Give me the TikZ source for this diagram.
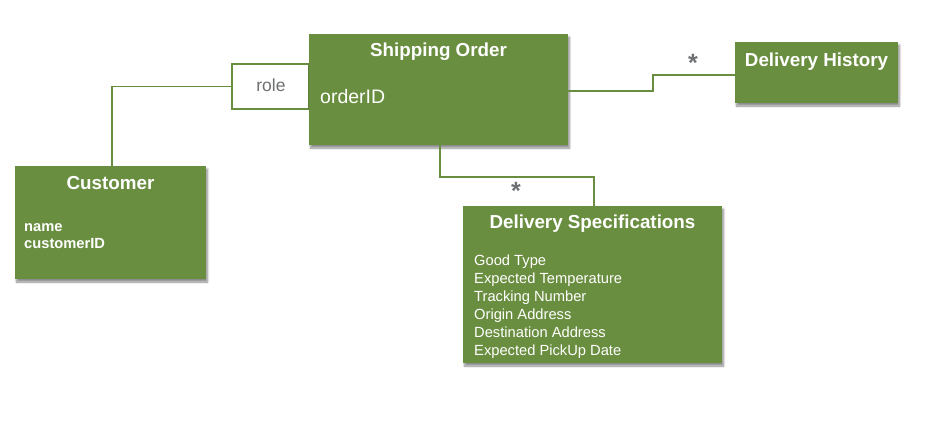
\documentclass[tikz,border=0pt]{standalone}
\usepackage{fontspec}
\setmainfont{Liberation Sans}
\usetikzlibrary{shadows.blur}
\definecolor{umlgreen}{RGB}{106,142,64}
\definecolor{txtgray}{RGB}{110,112,114}
\tikzset{
  classbox/.style={draw=none, fill=umlgreen, inner sep=0pt,
    blur shadow={shadow xshift=1.5pt, shadow yshift=-3pt, shadow blur steps=6, shadow opacity=45}},
  conn/.style={draw=umlgreen, line width=1.8pt},
  rolebox/.style={draw=umlgreen, line width=1.8pt, fill=white, inner sep=0pt},
  ttl/.style={text=white, font=\fontsize{18.8}{21}\selectfont\bfseries, inner sep=0pt, anchor=base},
  attr/.style={text=white, font=\fontsize{14.7}{17}\selectfont, inner sep=0pt, anchor=base west},
  battr/.style={text=white, font=\fontsize{14.7}{17}\selectfont\bfseries, inner sep=0pt, anchor=base west},
  mult/.style={text=txtgray, font=\fontsize{25}{25}\selectfont\bfseries, inner sep=0pt, anchor=north},
}
\begin{document}
\begin{tikzpicture}[x=1pt,y=-1pt]
\useasboundingbox (0,0) rectangle (932,424);
% role box (behind shipping order)
\node[rolebox, minimum width=77pt, minimum height=45pt] (role) at (270.5,86.5) {};
\node[text=txtgray, font=\fontsize{17.5}{20}\selectfont, inner sep=0pt, anchor=base] (roletxt) at (271,91) {role};
% boxes
\node[classbox, minimum width=259pt, minimum height=111pt] (so) at (438.5,89.5) {};
\node[classbox, minimum width=163pt, minimum height=61pt] (dh) at (816.5,72.5) {};
\node[classbox, minimum width=191pt, minimum height=113pt] (cust) at (110.5,222.5) {};
\node[classbox, minimum width=259pt, minimum height=157pt] (ds) at (592.5,284.5) {};
% connectors
\draw[conn] ([xshift=1.5pt]cust.north) |- (role.west);
\draw[conn] ([yshift=-1.5pt]so.east) -- ++(85,0) |- ([yshift=-2.5pt]dh.west);
\draw[conn] ([xshift=1.5pt]so.south) -- ++(0,32) -| ([xshift=1.5pt]ds.north);
% texts
\node[ttl] (sot) at (438.5,56) {Shipping Order};
\node[text=white, font=\fontsize{19.5}{22}\selectfont, inner sep=0pt, anchor=base west] (soa) at (320,103) {orderID};
\node[ttl] (dht) at (816.5,66.5) {Delivery History};
\node[ttl] (ct) at (110.5,189) {Customer};
\node[battr] (c1) at (24,231) {name};
\node[battr] (c2) at (24,248) {customerID};
\node[ttl] (dst) at (592.5,228.5) {Delivery Specifications};
\node[attr] (d1) at (474,265) {Good Type};
\node[attr] (d2) at (474,283) {Expected Temperature};
\node[attr] (d3) at (474,301) {Tracking Number};
\node[attr] (d4) at (474,319) {Origin Address};
\node[attr] (d5) at (474,337) {Destination Address};
\node[attr] (d6) at (474,355) {Expected PickUp Date};
% multiplicities
\node[mult] (m1) at (693,54) {*};
\node[mult] (m2) at (516,182) {*};
\end{tikzpicture}
\end{document}
